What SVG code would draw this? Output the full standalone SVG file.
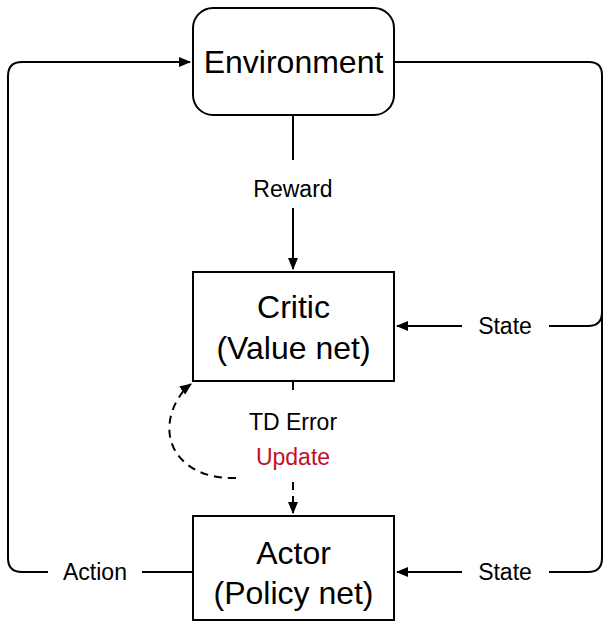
<svg xmlns="http://www.w3.org/2000/svg" width="603" height="626" viewBox="0 0 603 626">
<defs>
<marker id="ah" markerWidth="12" markerHeight="10" refX="11" refY="5" orient="auto" markerUnits="userSpaceOnUse">
<path d="M0,0 L12,5 L0,10 Z" fill="#000"/>
</marker>
<style>
.box{fill:#fff;stroke:#000;stroke-width:2}
.big{font-family:"Liberation Sans",Arial,sans-serif;font-size:32px;fill:#000;text-anchor:middle}
.lbl{font-family:"Liberation Sans",Arial,sans-serif;font-size:23px;fill:#000;text-anchor:middle}
.ln{fill:none;stroke:#000;stroke-width:2}
.dash{fill:none;stroke:#000;stroke-width:2;stroke-dasharray:8,6}
</style>
</defs>
<rect width="603" height="626" fill="#fff"/>
<g id="connectors">
<path class="ln" d="M193,572 L142,572"/>
<path class="ln" d="M48,572 L22,572 Q8,572 8,558 L8,76 Q8,62 22,62 L190,62" marker-end="url(#ah)"/>
<text class="lbl" x="95" y="580">Action</text>
<path class="ln" d="M394,62 L589,62 Q602,62 602,75 L602,558 Q602,572 588,572 L549,572"/>
<path class="ln" d="M462,572 L397,572" marker-end="url(#ah)"/>
<text class="lbl" x="505" y="580">State</text>
<path class="ln" d="M602,312 Q602,326 588,326 L549,326"/>
<path class="ln" d="M462,326 L397,326" marker-end="url(#ah)"/>
<text class="lbl" x="505" y="334">State</text>
<path class="ln" d="M293,115 L293,160"/>
<path class="ln" d="M293,208 L293,269" marker-end="url(#ah)"/>
<text class="lbl" x="293" y="197">Reward</text>
<path class="ln" d="M293,381 L293,390"/>
<path class="dash" d="M293,482 L293,500"/>
<path class="ln" d="M293,500 L293,513" marker-end="url(#ah)"/>
<text class="lbl" x="293" y="430">TD Error</text>
<text class="lbl" x="293" y="465" style="fill:#C0102A">Update</text>
<path class="dash" d="M236,478 C190,480 160,450 172,412 C176,400 183,390 191,384" marker-end="url(#ah)"/>
</g>
<g id="environment">
<rect class="box" x="193" y="8" width="201" height="107" rx="20" ry="20"/>
<text class="big" x="293.5" y="73">Environment</text>
</g>
<g id="critic">
<rect class="box" x="193" y="272" width="201" height="109"/>
<text class="big" x="293.5" y="318">Critic</text>
<text class="big" x="293.5" y="359">(Value net)</text>
</g>
<g id="actor">
<rect class="box" x="193" y="516" width="201" height="104"/>
<text class="big" x="293.5" y="564">Actor</text>
<text class="big" x="293.5" y="604">(Policy net)</text>
</g>
</svg>
